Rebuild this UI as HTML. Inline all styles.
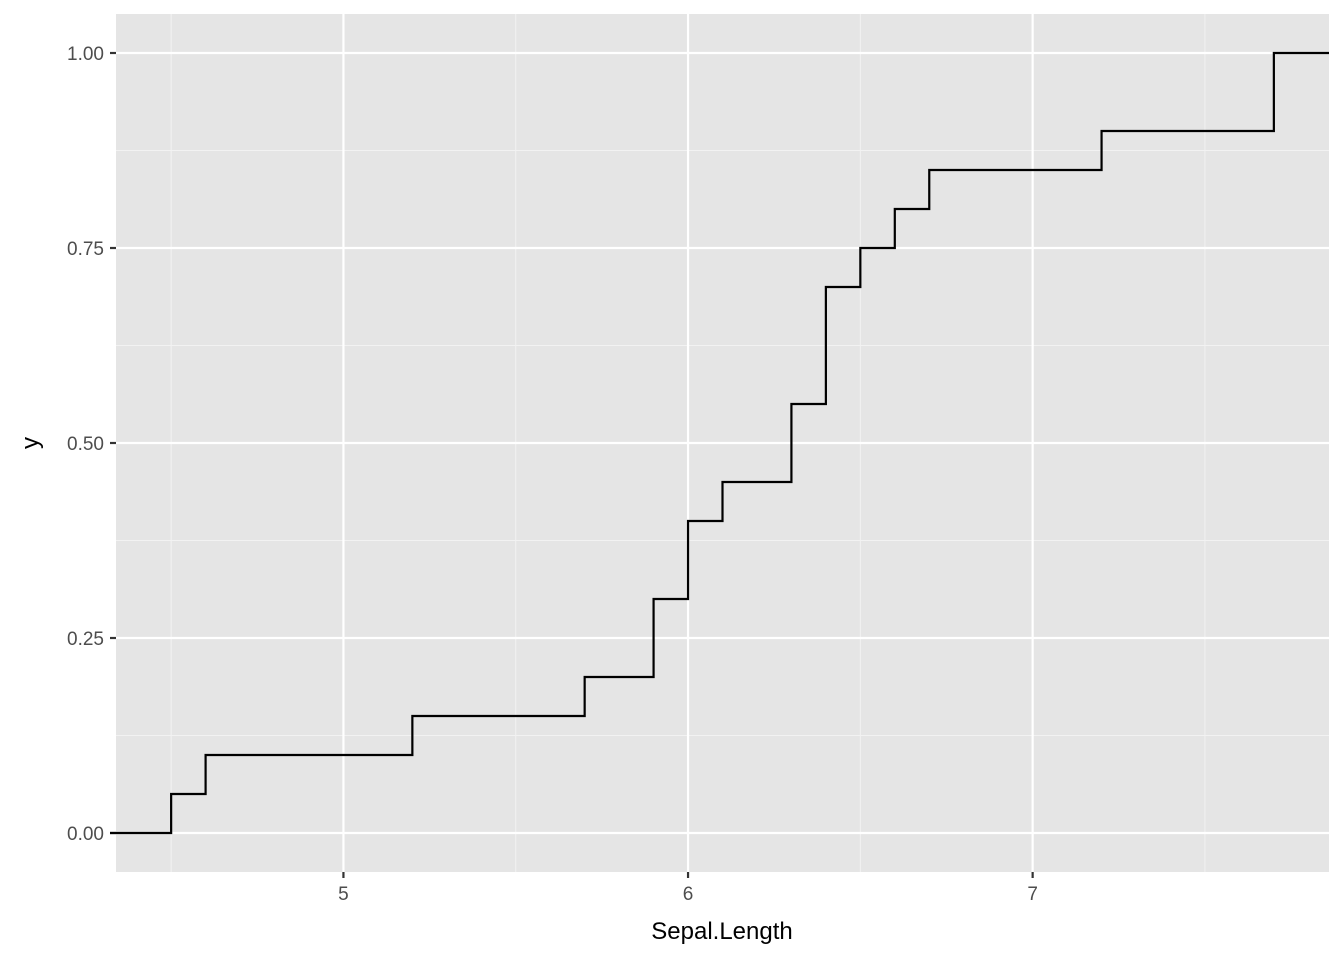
<!DOCTYPE html>
<html><head><meta charset="utf-8"><style>
html,body{margin:0;padding:0;background:#fff;}
svg{display:block;font-family:"Liberation Sans",Arial,sans-serif;}
</style></head><body>
<svg id="chart" width="1344" height="960">
<rect x="116" y="14" width="1213" height="858" fill="#e5e5e5"/>
<g id="grid"></g>
<g id="axes"></g>
<path id="line" fill="none" stroke="#000" stroke-width="2.2"/>
<text x="722" y="939" font-size="24" text-anchor="middle" fill="#000">Sepal.Length</text>
<text x="0" y="0" font-size="24" text-anchor="middle" fill="#000" transform="translate(38,443) rotate(-90)">y</text>
</svg>
<script>
const stepX = [4.5,4.6,5.2,5.7,5.9,6.0,6.1,6.3,6.4,6.5,6.6,6.7,7.2,7.7];
const stepY = [0.05,0.10,0.15,0.20,0.30,0.40,0.45,0.55,0.70,0.75,0.80,0.85,0.90,1.00];
const xTicks = [5,6,7];
const xMinor = [4.5,5.5,6.5,7.5];
const yTicks = [0,0.25,0.5,0.75,1];
const yTickLabels = ["0.00","0.25","0.50","0.75","1.00"];
const yMinor = [0.125,0.375,0.625,0.875];

const L=116,R=1329,T=14,B=872;
const xmin=4.34,xmax=7.86,ymin=-0.05,ymax=1.05;
const sx=v=>L+(v-xmin)/(xmax-xmin)*(R-L);
const sy=v=>B-(v-ymin)/(ymax-ymin)*(B-T);
const NS="http://www.w3.org/2000/svg";
const grid=document.getElementById('grid'), axes=document.getElementById('axes');
function mk(tag,attrs,parent){const e=document.createElementNS(NS,tag);for(const k in attrs)e.setAttribute(k,attrs[k]);parent.appendChild(e);return e;}
xMinor.forEach(v=>{const e=mk('line',{x1:sx(v),x2:sx(v),y1:T,y2:B,stroke:'#f2f2f2','stroke-width':1},grid);

});
yMinor.forEach(v=>{const e=mk('line',{x1:L,x2:R,y1:sy(v),y2:sy(v),stroke:'#f2f2f2','stroke-width':1},grid);

});
xTicks.forEach(v=>{const e=mk('line',{x1:sx(v),x2:sx(v),y1:T,y2:B,stroke:'#fff','stroke-width':2.2},grid);


const t=mk('line',{x1:sx(v),x2:sx(v),y1:B,y2:B+6,stroke:'#333','stroke-width':2.2},axes);


const l=mk('text',{x:sx(v),y:B+28,'font-size':19,'text-anchor':'middle',fill:'#4d4d4d'},axes);l.textContent=v;

});
yTicks.forEach((v,i)=>{const e=mk('line',{x1:L,x2:R,y1:sy(v),y2:sy(v),stroke:'#fff','stroke-width':2.2},grid);


const t=mk('line',{x1:L-6,x2:L,y1:sy(v),y2:sy(v),stroke:'#333','stroke-width':2.2},axes);


const l=mk('text',{x:L-12,y:sy(v)+7,'font-size':19,'text-anchor':'end',fill:'#4d4d4d'},axes);l.textContent=yTickLabels[i];

});
let d=`M110,${sy(0)}`;let prev=0;
stepX.forEach((x,i)=>{d+=` H${sx(x)} V${sy(stepY[i])}`;prev=stepY[i];});
d+=` H${R}`;
document.getElementById('line').setAttribute('d',d);
</script>
</body></html>
